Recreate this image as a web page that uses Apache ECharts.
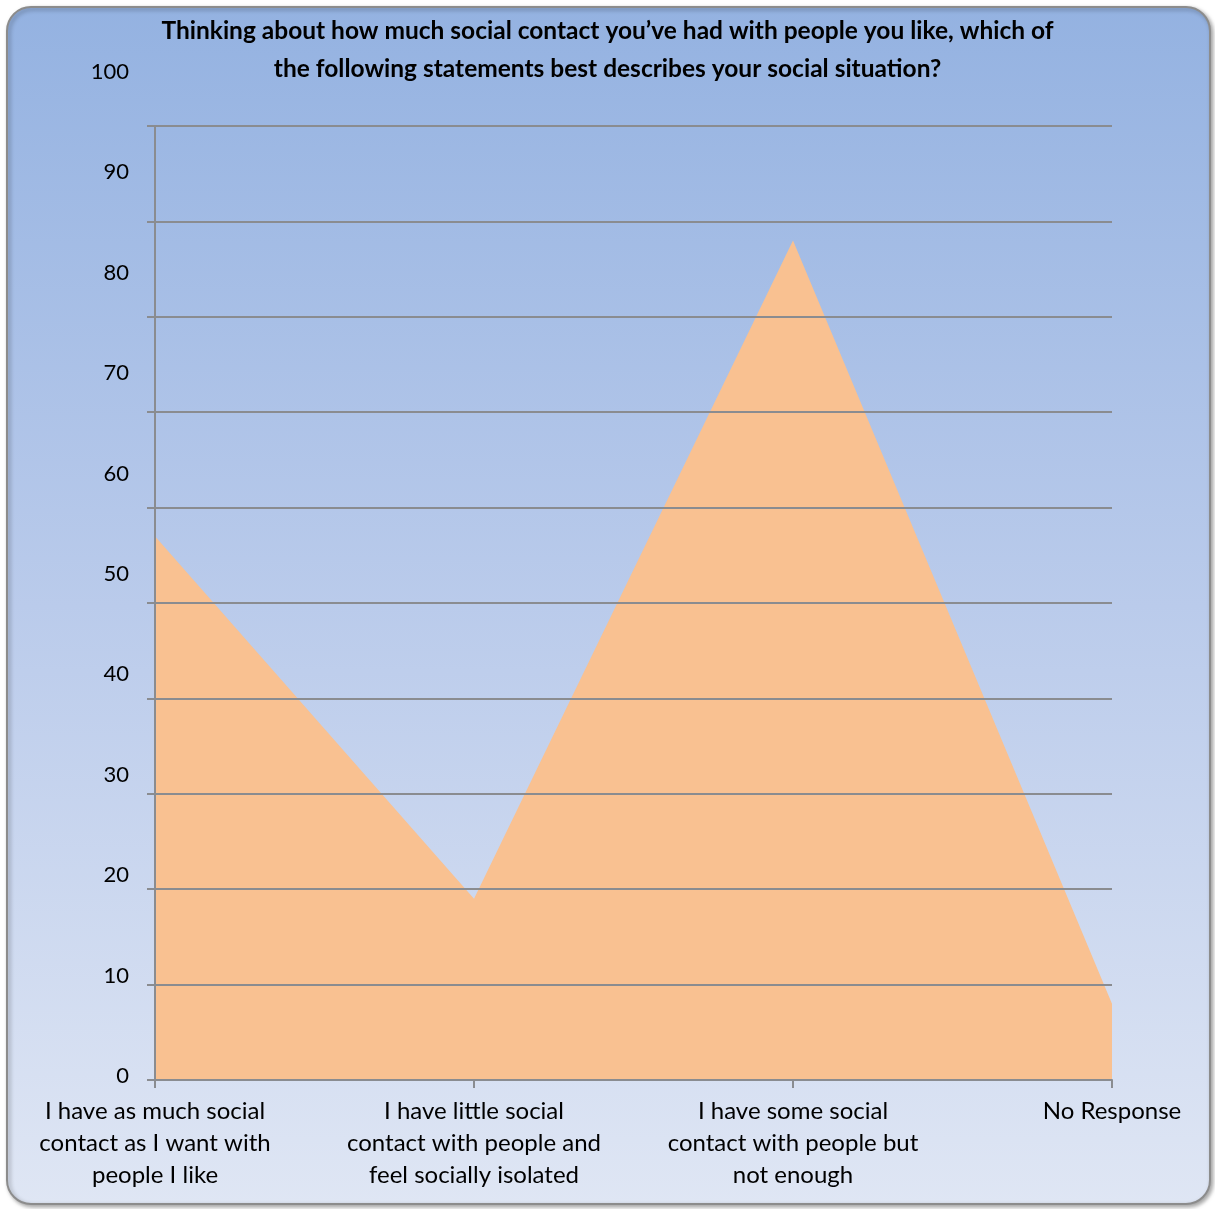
<!DOCTYPE html>
<html>
<head>
<meta charset="utf-8">
<script src="https://cdn.jsdelivr.net/npm/echarts@6/dist/echarts.min.js"></script>
<style>
  html, body { margin: 0; padding: 0; background: #ffffff; }
  #chart { width: 1215px; height: 1209px; }
</style>
</head>
<body>
<div id="chart"></div>
<script>
// Survey answers and counts
const titleText = 'Thinking about how much social contact you\u2019ve had with people you like, which of\nthe following statements best describes your social situation?';
const categories = [
  'I have as much social\ncontact as I want with\npeople I like',
  'I have little social\ncontact with people and\nfeel socially isolated',
  'I have some social\ncontact with people but\nnot enough',
  'No Response'
];
const values = [57, 19, 88, 8];
const yMin = 0;
const yMax = 100;
const yStep = 10;

const FONT = 'Lato, "Open Sans", sans-serif';
const GRID_GREY = '#8a8c90';

const chart = echarts.init(document.getElementById('chart'), null, { renderer: 'canvas' });

chart.setOption({
  animation: false,
  graphic: [{
    type: 'rect',
    z: -10,
    silent: true,
    shape: { x: 7, y: 7, width: 1203, height: 1197, r: 24 },
    style: {
      fill: new echarts.graphic.LinearGradient(0, 0, 0, 1, [
        { offset: 0, color: '#94b2e1' },
        { offset: 0.5, color: '#bacbeb' },
        { offset: 1, color: '#dfe6f4' }
      ]),
      stroke: '#8c8c8c',
      lineWidth: 2,
      shadowColor: 'rgba(0,0,0,0.35)',
      shadowBlur: 4,
      shadowOffsetX: 2,
      shadowOffsetY: 2
    }
  }],
  title: {
    text: titleText,
    left: 'center',
    top: 7,
    textStyle: {
      fontFamily: FONT,
      fontWeight: 'bold',
      fontSize: 24.5,
      lineHeight: 38,
      color: '#000'
    }
  },
  grid: [
    { left: 155, right: 103, top: 126, bottom: 129 },
    // value labels sit on their own, slightly taller scale
    { left: 155, right: 103, top: 72, bottom: 133 }
  ],
  xAxis: [{
    gridIndex: 0,
    type: 'category',
    data: categories,
    boundaryGap: false,
    z: 5,
    axisLine: { show: true, lineStyle: { color: GRID_GREY, width: 2 } },
    axisTick: { show: true, length: 8, lineStyle: { color: GRID_GREY, width: 2 } },
    axisLabel: {
      interval: 0,
      margin: 15,
      fontFamily: FONT,
      fontSize: 24,
      lineHeight: 32,
      color: '#000'
    },
    splitLine: { show: false }
  }, {
    gridIndex: 1,
    type: 'category',
    data: categories,
    boundaryGap: false,
    show: false
  }],
  yAxis: [{
    gridIndex: 0,
    type: 'value',
    min: yMin,
    max: yMax,
    interval: yStep,
    z: 5,
    axisLine: { show: true, lineStyle: { color: GRID_GREY, width: 2 } },
    axisTick: { show: true, length: 8, lineStyle: { color: GRID_GREY, width: 2 } },
    axisLabel: { show: false },
    splitLine: { show: true, lineStyle: { color: GRID_GREY, width: 2 } }
  }, {
    gridIndex: 1,
    type: 'value',
    min: yMin,
    max: yMax,
    interval: yStep,
    axisLine: { show: false },
    axisTick: { show: false },
    splitLine: { show: false },
    axisLabel: {
      margin: 26,
      fontFamily: FONT,
      fontSize: 22,
      color: '#000'
    }
  }],
  series: [{
    type: 'line',
    xAxisIndex: 0,
    yAxisIndex: 0,
    data: values,
    symbol: 'none',
    lineStyle: { width: 0 },
    itemStyle: { color: '#f9c191' },
    areaStyle: { color: '#f9c191', opacity: 1 },
    z: 2
  }]
});
</script>
</body>
</html>
